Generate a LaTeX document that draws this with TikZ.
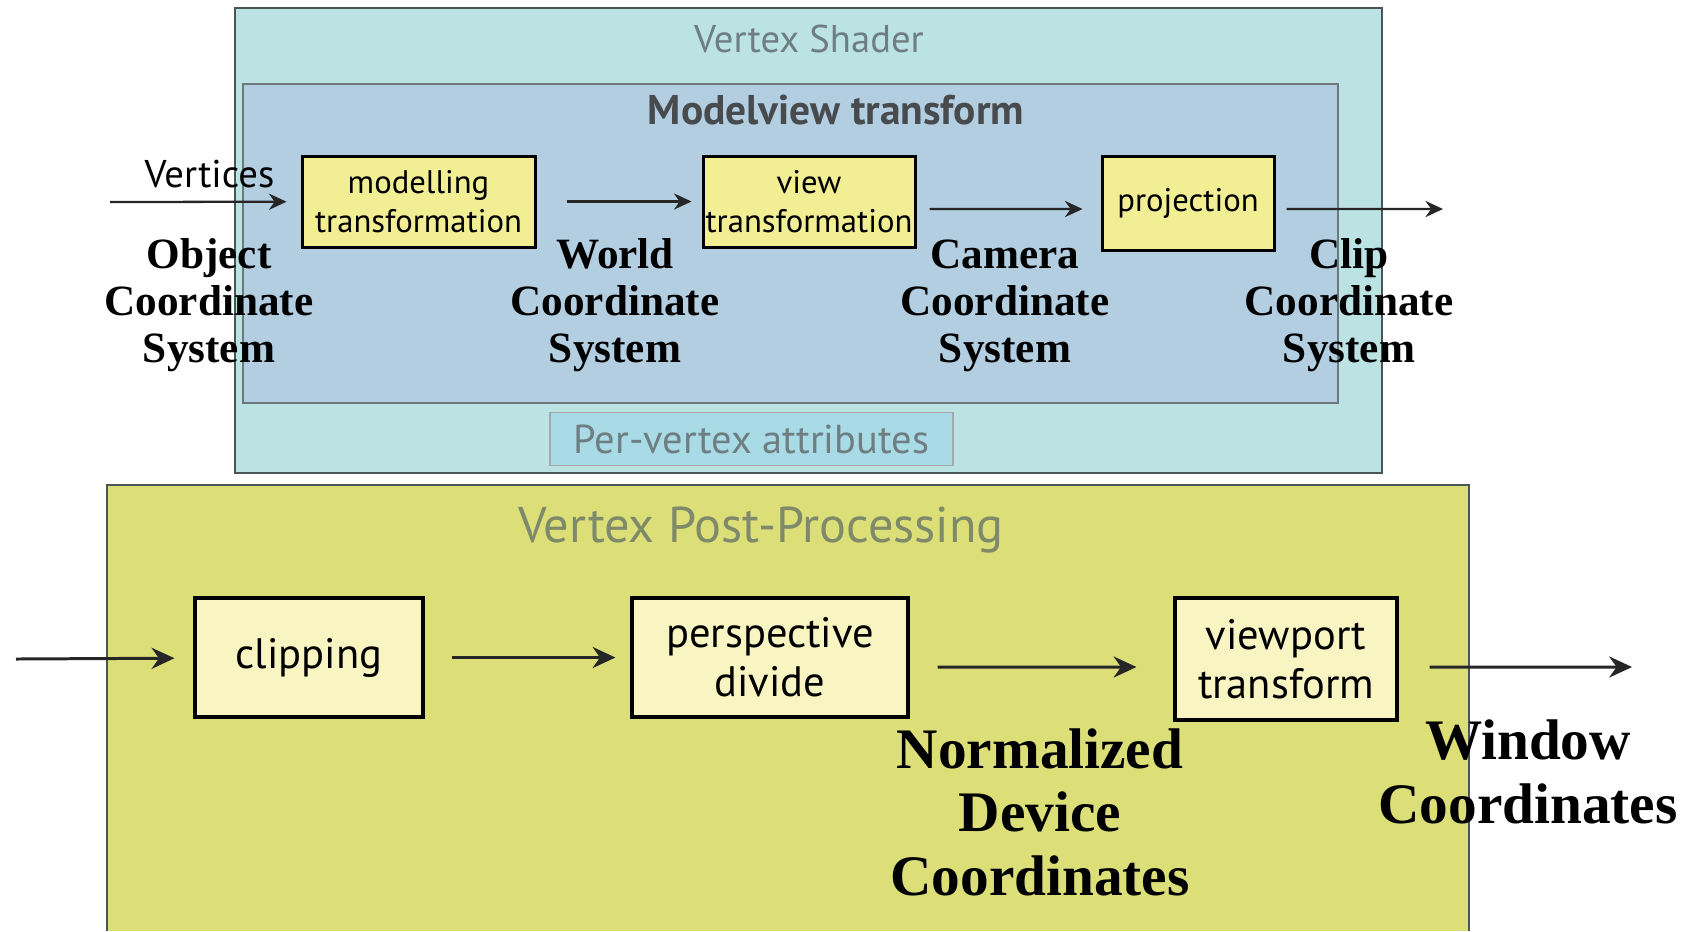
\documentclass[tikz,border=0pt]{standalone}
\usepackage{fontspec}
\setmainfont{Liberation Serif}
\newfontfamily\ptsans{PT Sans}
\usetikzlibrary{arrows.meta}
\definecolor{shaderbg}{HTML}{BCE3E3}
\definecolor{mvbg}{HTML}{B3CEE1}
\definecolor{attrbg}{HTML}{A9DBE6}
\definecolor{postbg}{HTML}{DCDF77}
\definecolor{stagefill}{HTML}{F1EE93}
\definecolor{postfill}{HTML}{F9F5C2}
\definecolor{titlegray}{HTML}{6F7E82}
\definecolor{mvtext}{HTML}{474B4E}
\definecolor{posttitle}{HTML}{7F8A6A}
\definecolor{framegray}{HTML}{4A5558}
\begin{document}
\begin{tikzpicture}[x=0.1mm,y=-0.1mm,
    stage/.style={draw=black,line width=0.85pt,fill=stagefill,inner sep=0pt,
        align=center,font=\ptsans\fontsize{9.3}{11}\selectfont},
    poststage/.style={draw=black,line width=0.9pt,fill=postfill,inner sep=0pt,
        align=center,font=\ptsans\fontsize{12.1}{14}\selectfont},
    coordlabel/.style={anchor=base,align=center,inner sep=0pt,
        font=\fontsize{12.3}{13.3}\selectfont\bfseries},
    bigcoordlabel/.style={anchor=base,align=center,inner sep=0pt,
        font=\fontsize{16.3}{18}\selectfont\bfseries},
    flow/.style={-{Stealth[length=5pt,width=4.6pt]},line width=0.65pt,black!85},
    bigflow/.style={-{Stealth[length=6.5pt,width=6pt]},line width=0.85pt,black!85}]
    \useasboundingbox (0,0) rectangle (1688,931);
    % vertex shader
    \draw[fill=shaderbg,draw=framegray,line width=0.4pt] (235,8) rectangle (1382,473);
    \draw[fill=mvbg,draw=framegray!80,line width=0.4pt] (243,84) rectangle (1338,403);
    \node[anchor=base,text=titlegray,font=\ptsans\fontsize{11}{13}\selectfont] (vstitle) at (809,52) {Vertex Shader};
    \node[anchor=base,text=mvtext,font=\ptsans\fontsize{11.8}{13}\selectfont\bfseries] (mvtitle) at (836,124) {Modelview transform};
    \node[draw=framegray!50,line width=0.4pt,fill=attrbg,minimum width=40.3mm,minimum height=4.8mm,
        text=titlegray,font=\ptsans\fontsize{11.5}{13}\selectfont] (attr) at (751.5,439) {Per-vertex attributes};
    \node[stage,minimum width=23.3mm,minimum height=9.1mm] (model) at (418.5,201.5) {modelling\\transformation};
    \node[stage,minimum width=21.2mm,minimum height=9.1mm] (view) at (809,201.5) {view\\transformation};
    \node[stage,minimum width=17.2mm,minimum height=9.4mm] (proj) at (1188,203) {projection};
    \node[anchor=base west,inner sep=0pt,font=\ptsans\fontsize{11}{13}\selectfont] (vert) at (144,187) {Vertices};
    \coordinate (vin) at (110,202);
    \coordinate (vout) at (1443,209);
    \draw[flow,shorten >=1.4mm] (vin) -- (model);
    \draw[flow,shorten <=3mm,shorten >=1mm] (model) -- (view);
    \draw[flow,shorten <=1.3mm,shorten >=1.8mm] ([yshift=-0.75mm]view.east) -- ([yshift=-0.6mm]proj.west);
    \draw[flow,shorten <=1.1mm] ([yshift=-0.6mm]proj.east) -- (vout);
    \node[coordlabel] (ocs) at (209,362) {Object\\Coordinate\\System};
    \node[coordlabel] (wcs) at (615,362) {World\\Coordinate\\System};
    \node[coordlabel] (ccs) at (1005,362) {Camera\\Coordinate\\System};
    \node[coordlabel] (clcs) at (1349,362) {Clip\\Coordinate\\System};
    % vertex post-processing
    \fill[postbg] (107,485) rectangle (1469,931);
    \draw[draw=framegray,line width=0.4pt] (107,931) -- (107,485) -- (1469,485) -- (1469,931);
    \node[anchor=base,text=posttitle,font=\ptsans\fontsize{14.3}{16}\selectfont] (pptitle) at (761,542) {Vertex Post-Processing};
    \node[poststage,minimum width=22.8mm,minimum height=11.9mm] (clip) at (309,657.5) {clipping};
    \node[poststage,minimum width=27.6mm,minimum height=11.9mm] (persp) at (770,657.5) {perspective\\divide};
    \node[poststage,minimum width=22.2mm,minimum height=12.2mm] (vport) at (1286,659) {viewport\\transform};
    \coordinate (pin) at (16,659);
    \coordinate (pout) at (1632,667);
    \draw[bigflow,shorten >=1.9mm] (pin) -- (clip);
    \draw[bigflow,shorten <=2.7mm,shorten >=1.5mm] (clip) -- (persp);
    \draw[bigflow,shorten <=2.8mm,shorten >=3.7mm] ([yshift=-0.95mm]persp.east) -- ([yshift=-0.8mm]vport.west);
    \draw[bigflow,shorten <=3.1mm] ([yshift=-0.8mm]vport.east) -- (pout);
    \node[bigcoordlabel] (ndc) at (1040,895) {Normalized\\Device\\Coordinates};
    \node[bigcoordlabel] (win) at (1528,823) {Window\\Coordinates};
\end{tikzpicture}
\end{document}
